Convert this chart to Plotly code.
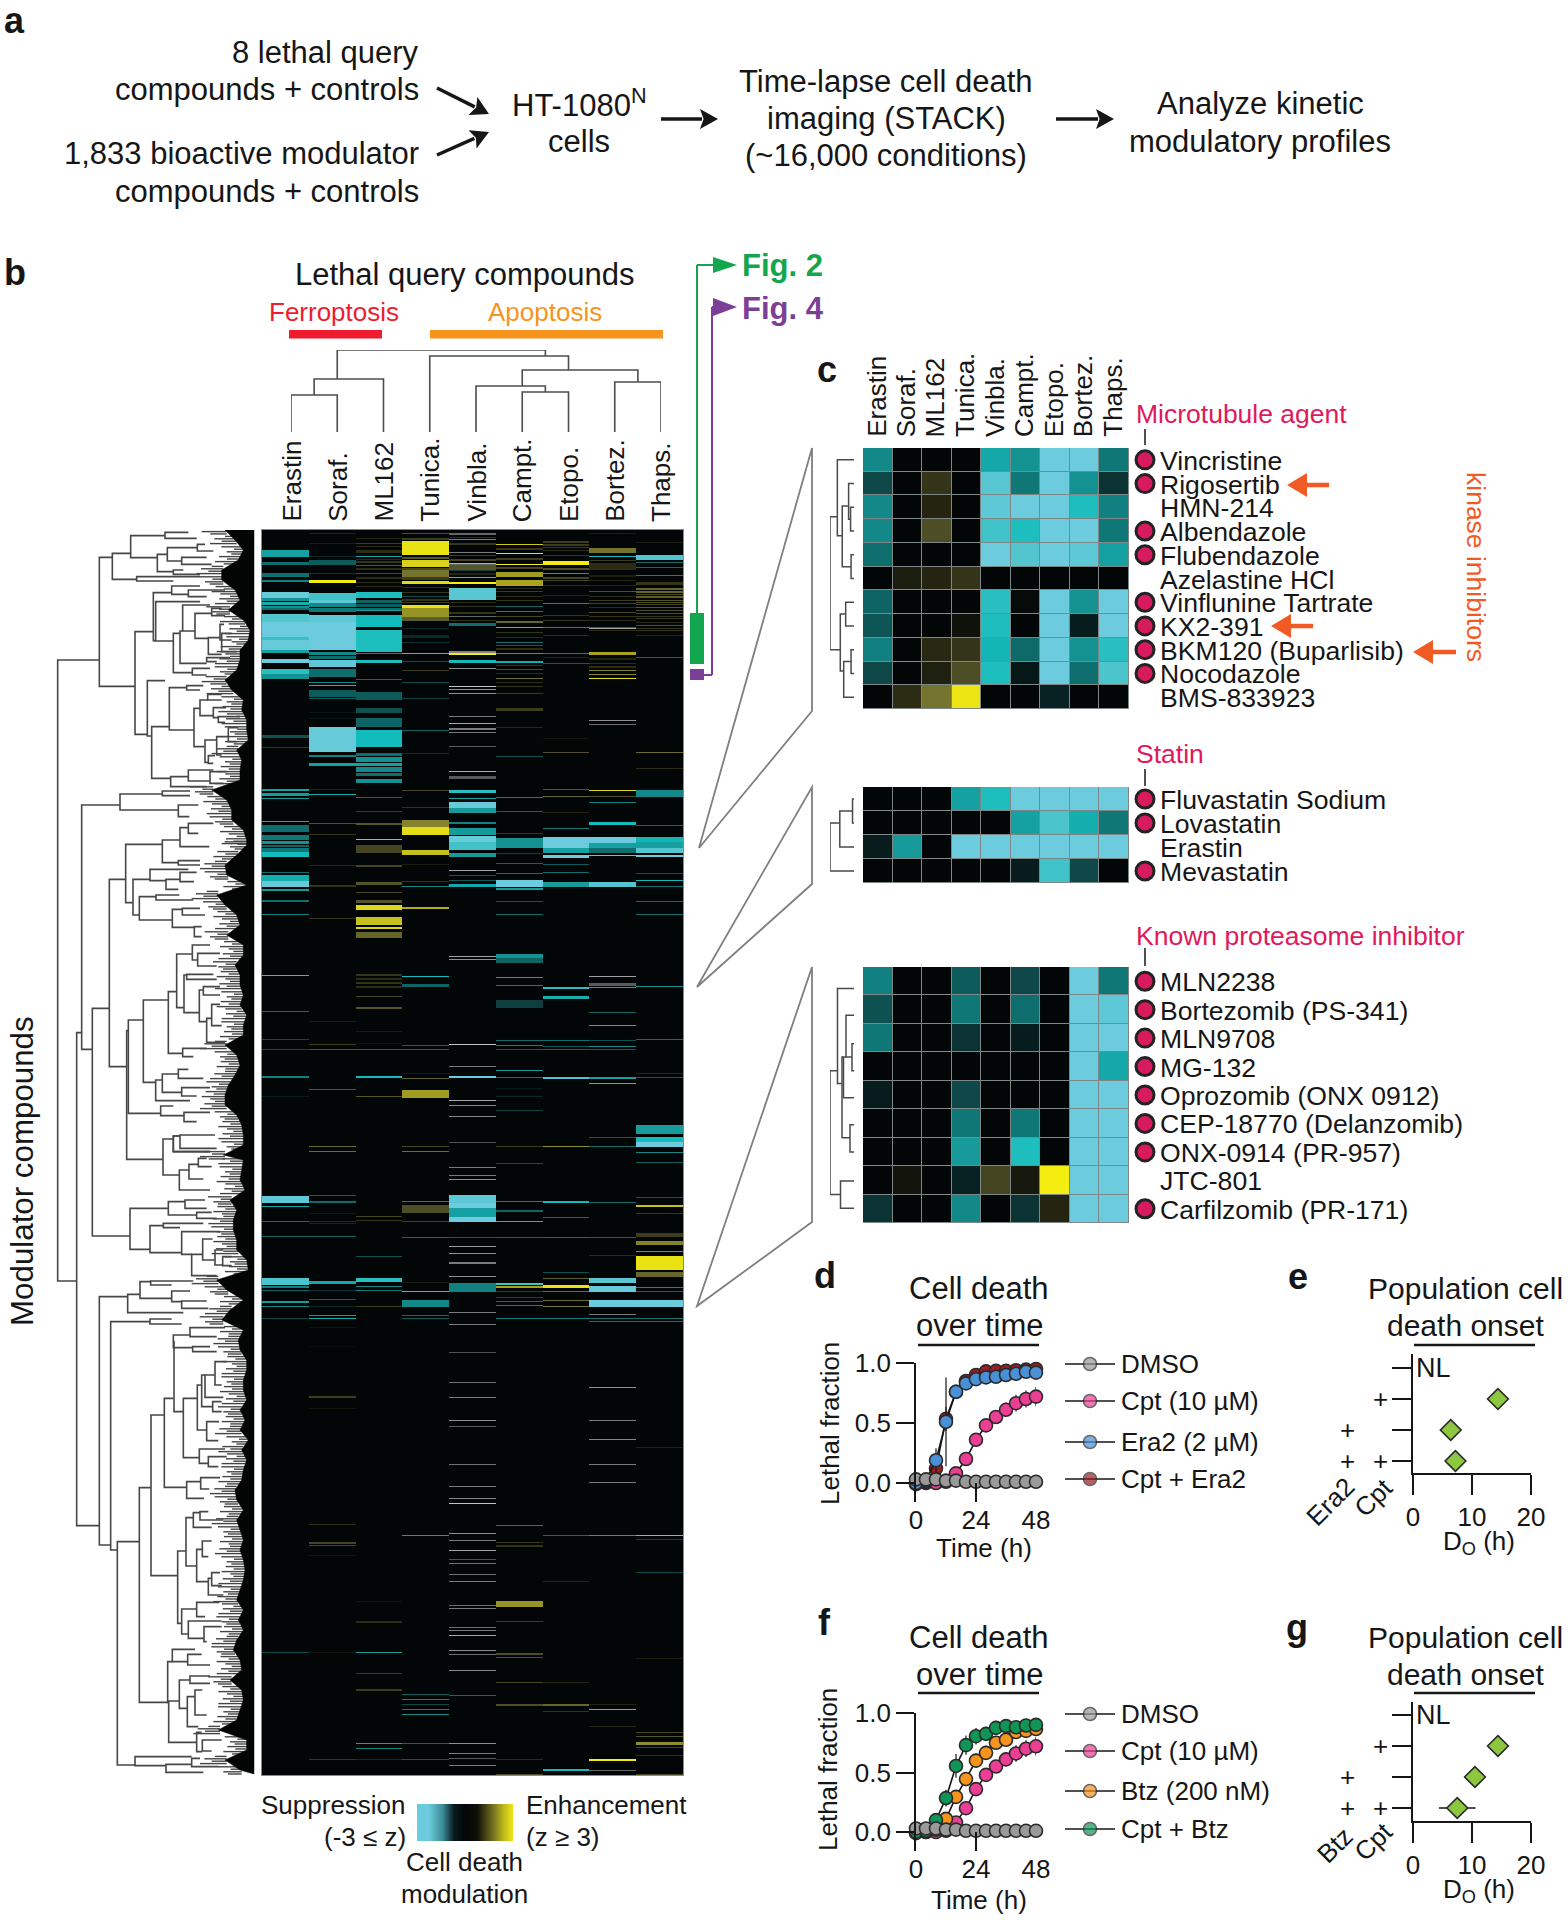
import numpy as np
import plotly.graph_objects as go

W, H = 1568, 1920
FONT = "Liberation Sans"
INK = "#161616"

# ---------- colour scale for z scores ----------
CSCALE = [[0, '#6ccbdc'], [1/12, '#4cc4cc'], [2/12, '#12bcbc'], [3/12, '#169a9a'], [4/12, '#0e6e6e'],
          [5/12, '#0e3e3e'], [6/12, '#020607'], [7/12, '#2c2c14'], [8/12, '#55552a'], [9/12, '#7c7c30'],
          [10/12, '#a8a41f'], [11/12, '#d8d21a'], [1, '#f5ec10']]
KEYSCALE = [[0, '#6ccbdc'], [.12, '#6ccbdc'], [.26, '#3d8c9a'], [.38, '#0a1a1e'], [.5, '#020607'], [.62, '#0f0f08'],
            [.78, '#6f6b20'], [.9, '#c0ba1c'], [1, '#f0e816']]
scale_key = [-3, -2.5, -2, -1.5, -1, -.5, 0, .5, 1, 1.5, 2, 2.5, 3]

query_compounds = ["Erastin", "Soraf.", "ML162", "Tunica.", "Vinbla.", "Campt.", "Etopo.", "Bortez.", "Thaps."]

# ---------- panel b: bands per column (first row, number of rows, z) ----------
n_rows_b = 1245
band_erastin = [(20,7,-1.6),(32,3,-1),(43,4,-1),(50,2,-1.2),(62,6,-2.9),(68,3,-1.4),(72,3,-1.8),(76,2,-1.4),(78,2,-1),
 (84,8,-2.6),(92,15,-3),(107,3,-2.3),(110,10,-2.9),(120,3,-1.6),(129,4,-3),(139,5,-2.2),(144,5,-1.4),(205,3,-.7),(217,1,-.5),
 (259,2,-1.6),(263,3,-1.5),(268,1,-1.5),(291,1,-1.8),(295,7,-1),(305,5,-1.1),(311,3,-1.4),(315,2,-.9),(318,4,-1.1),(322,5,-2),
 (342,1,-1),(345,6,-1.8),(351,6,-2.9),(359,2,-1.5),(370,2,-1),(384,1,-1.2),(445,1,-2.2),(481,1,-1),(509,1,-.6),(519,1,-.6),
 (546,2,-1.2),(566,1,-.2),(666,7,-2.8),(676,1,-1.7),(691,1,-1),(706,1,-.9),(748,7,-2.5),(756,2,-1.2),(760,1,-.9),(771,2,-1.5),
 (776,1,-1.3),(788,1,-.6),(1122,1,-.6)]
band_soraf = [(3,1,.4),(13,1,.3),(26,1,-.3),(30,5,-.8),(43,1,.5),(50,3,3),(63,7,-2.4),(70,3,-2.8),(73,4,-1.3),(78,4,-1.1),
 (85,7,-2.8),(92,28,-3),(122,3,-1.3),(126,3,-1),(130,7,-2.8),(139,8,-1),(152,1,-1.3),(155,1,-2),(160,7,-.8),(168,1,-.9),
 (182,1,-.15),(188,1,-.15),(197,25,-2.9),(225,2,-1.2),(233,3,-1.6),(259,1,-.3),(264,1,-1.8),(293,1,.9),(304,1,.6),(335,1,.4),
 (355,2,.6),(388,1,.6),(491,1,.3),(514,1,.7),(519,1,-.9),(559,1,-1),(616,1,1.2),(621,1,1.3),(665,1,-.8),(671,2,-1),(683,1,-.2),
 (691,1,-.4),(693,1,.4),(706,1,-.9),(751,3,-1.7),(760,1,-.4),(769,1,.9),(776,1,-.3),(785,1,-1.5),(788,1,-1.8),(797,1,.2),
 (816,1,.1),(866,2,.7),(878,1,.2),(994,1,.5),(1012,2,.8),(1015,1,.8),(1025,1,.2),(1122,1,.2),(1229,1,.6)]
band_ml162 = [(8,1,.4),(16,1,.5),(13,1,-.6),(20,3,.5),(26,1,-1.6),(29,1,-.4),(31,2,.6),(35,1,1),(38,2,.5),(43,1,-.8),(47,2,.5),(52,1,.5),(56,1,.5),
 (62,6,-2.1),(70,3,-.9),(74,3,-.8),(78,2,-1),(80,1,-1.6),(85,12,-2),(100,22,-2.1),(123,1,-1.3),(130,3,-2.1),(149,1,1),(162,8,-.8),(178,5,-.7),(188,9,-.9),
 (200,17,-2),(223,3,-1),(227,5,-1.4),(233,3,-1.6),(237,5,-1.3),(243,3,-1),(249,4,-1.4),(267,1,1),(281,1,.7),(293,2,1),(309,1,2.3),(315,8,.8),(335,2,.8),(352,3,1),(362,1,.8),
 (370,3,1),(375,5,2.6),(387,8,2.3),(397,2,2.6),(402,6,1.2),(444,2,.6),(448,2,.5),(452,2,.6),(456,2,.5),(466,1,.8),(477,2,1),
 (501,1,.3),(513,1,.2),(519,1,-.9),(546,2,-2),(566,1,1),(686,1,.8),(690,1,.6),(726,1,-.7),(748,4,-2.2),(756,1,-1.3),(760,1,-1.1),
 (776,1,.7),(1071,1,.2),(1091,2,.5),(1122,1,-1.5),(1143,1,-.6),(1159,2,.7),(1213,1,-1.6),(1218,1,-1.3),(1229,1,.4)]
band_tunica = [(3,1,.9),(8,2,.7),(11,14,2.8),(27,2,1),(30,7,2.5),(38,2,.8),(40,7,1.4),(47,3,.7),(51,3,2.7),(57,1,.5),(62,1,.6),(66,1,-.6),(69,2,.6),(72,1,.7),(75,3,2.8),(78,9,1.8),(87,4,1.1),
 (98,1,-.3),(105,3,-.3),(112,1,-.4),(123,1,2),(131,1,-.6),(140,1,.7),(152,1,-.6),(168,1,-.5),(200,1,-.9),(223,1,.4),(260,1,.8),
 (277,1,-.5),(290,7,1.6),(297,8,2.7),(320,5,2.3),(334,1,.3),(351,1,-.5),(356,1,-1.3),(377,2,2.1),(446,1,-2),(454,3,-.9),
 (515,1,-.9),(519,1,-.9),(543,1,.3),(548,1,1.1),(560,8,1.9),(616,1,.8),(621,1,1.3),(671,1,-1.2),(675,8,.9),(691,1,-.7),(707,1,-1),
 (752,1,.3),(761,1,2),(770,7,-1.3),(785,1,-1),(788,1,-.8),(1005,1,-1.5),(1164,1,-.8),(1169,1,-1.2),(1174,1,-.6),(1179,1,-1.2),
 (1184,1,-1.3),(1213,1,-.9),(1229,1,.8)]
band_vinbla = [(7,1,.5),(13,2,.6),(25,1,.7),(29,2,.8),(33,2,2.3),(35,5,1),(40,1,-.5),(43,2,.4),(47,1,2),(52,2,3),(58,12,-2.7),(72,1,.5),(76,1,.6),(82,2,.6),(90,1,.6),(93,3,-1),(123,2,3),(130,3,-2),(260,3,-2.2),(268,1,-1.7),
 (272,6,-2.9),(278,5,-1.5),(292,2,-1.2),(298,7,-1.5),(306,6,-2.9),(312,8,-2.4),(323,4,-1.5),(345,1,-.8),(350,1,-.8),(354,3,-1.7),
 (546,2,-3),(665,8,-2.8),(673,5,-3),(678,9,-1.6),(687,5,-3),(707,1,-.8),(753,9,-1.2)]
band_campt = [(14,1,2.4),(18,2,.6),(23,1,2.8),(28,2,.7),(34,1,3),(37,2,.8),(42,5,1.9),(50,6,2),(58,1,.5),(61,1,.7),(66,1,.5),(70,1,.6),(76,1,-.9),(81,1,1.2),(86,1,.8),(91,2,1.2),(97,1,2),(102,1,.6),
 (107,1,.5),(112,1,-1),(115,1,-.8),(118,2,.5),(123,1,1.6),(131,2,-1.8),(135,1,.6),(139,1,.9),(143,1,.5),(148,1,1.3),(152,1,.5),(156,1,.6),(163,1,-.6),(178,3,.7),(197,1,.4),
 (226,1,-.7),(267,1,1.2),(281,1,.9),(303,1,.6),(308,10,-1.4),(323,1,-.5),(333,1,.9),(343,1,-1),(350,7,-3),(358,2,-1.5),(371,1,.8),
 (384,1,-1),(424,4,-1.4),(428,5,-.9),(447,1,-1.6),(455,1,-1.2),(470,8,-.5),(510,1,-1),(515,1,-1.2),(519,1,-.8),(540,1,-1.5),
 (547,1,-1),(558,1,-.2),(566,1,-.3),(580,1,-.5),(616,1,.7),(633,1,-.7),(671,1,-1.2),(680,2,-.9),(691,1,-2),(707,1,-.9),(753,2,-2.4),
 (756,2,2),(761,1,.7),(767,1,.7),(771,1,-1),(775,1,-1.2),(788,1,-1.2),(995,1,1.2),(1012,1,.6),(1015,2,.6),(1071,6,1.8),(1091,1,.7),
 (1123,2,.9),(1127,1,.9),(1152,1,.8),(1174,2,.9),(1229,1,.5),(1244,1,.9)]
band_etopo = [(11,2,.7),(14,2,.7),(17,1,.7),(20,1,.5),(25,1,.6),(31,4,3),(38,2,.9),(43,1,1.5),(47,2,.8),(50,1,.8),(55,1,.5),(65,1,.4),(73,1,1.3),(85,1,.6),(90,1,.6),(97,1,1.3),(105,1,.5),(123,1,1.2),(127,1,.4),(133,1,-.8),(208,1,.2),
 (222,1,.9),(259,1,-1),(266,1,1.2),(282,1,.4),(298,1,-1.1),(307,11,-3),(318,5,-1.6),(325,3,-3),(334,1,-.8),(342,1,-1),(352,5,-1.5),
 (457,2,-2.2),(466,3,-1.8),(510,1,-1),(516,1,-.8),(519,1,-.9),(547,2,-2.6),(616,1,1.7),(671,2,-2),(687,1,-1),(707,1,-1),(742,1,-.7),
 (748,1,1.1),(755,3,2.8),(761,1,-1.3),(770,1,1.3),(776,1,1.4),(788,1,-1.2),(1005,1,-1),(1051,1,.4),(1152,1,.4),(1174,2,1.2),
 (1181,1,.6),(1239,2,-2)]
band_bortez = [(3,1,.3),(18,5,1.4),(26,1,-2),(30,1,.7),(33,7,.5),(45,2,.3),(50,1,.4),(55,1,.4),(61,1,.9),(66,1,.5),(70,1,.7),(73,1,.8),(77,1,.5),(82,1,.8),(86,1,.6),(90,1,.5),(97,1,1),(100,1,.5),(122,3,2),(128,2,.4),(133,1,.5),(136,2,.5),(140,1,1.6),(144,1,1.6),
 (148,1,2.7),(260,1,2.6),(266,1,.9),(272,1,-1.2),(292,3,-2),(307,6,-3),(313,5,-1.6),(318,5,-1),(325,1,-2.7),(352,5,-2.6),(457,1,-1.7),
 (482,1,-.9),(510,1,-.7),(516,1,-1.3),(519,1,-.8),(547,2,-1.6),(607,1,-.8),(616,1,-1),(672,1,-1),(707,1,-.9),(725,1,.5),(748,5,-2.7),
 (756,6,-2.9),(770,7,-3),(788,1,-1),(791,1,-1),(1005,1,-1.6),(1174,1,.4),(1196,1,.4),(1229,2,3)]
band_thaps = [(12,1,.3),(25,5,-2.6),(32,1,-1),(37,1,-1),(45,1,-1.2),(52,3,.6),(58,2,1.2),(61,2,1.2),(64,1,.8),(66,2,1.1),(70,1,1),(72,1,.9),(74,1,.8),(77,1,1),(80,1,.9),(83,1,.9),(86,1,.6),(88,1,.7),(92,1,.5),(95,1,-.9),
 (98,1,.6),(100,1,.6),(105,1,.4),(127,1,.9),(222,1,1.3),(238,1,.5),(260,7,-1.3),(295,1,-.9),(307,5,-1.9),(312,6,-1.6),(318,5,-2.6),(325,2,-3),(343,1,-.7),
 (350,1,-1.9),(356,1,-1),(371,1,1),(384,1,-1),(456,1,-1.4),(509,1,-1),(543,1,.5),(547,1,-.8),(595,9,-1.5),(607,5,-2),(612,5,-3),(622,1,-1.3),
 (632,1,-.8),(667,1,.8),(675,2,2.3),(683,1,.6),(703,4,.7),(711,4,1.6),(721,1,1.7),(726,14,2.8),(742,5,1.2),(757,1,1.3),(761,1,-.9),(770,7,-3),
 (788,1,-1.1),(791,1,-1),(917,1,-.3),(1005,1,-2.8),(1009,1,-.5),(1042,1,-.6),(1128,1,.3),(1202,1,.8),(1206,1,1),(1212,3,1.7),(1217,1,.8),
 (1225,1,.5),(1244,1,.8)]
band_lists = [band_erastin, band_soraf, band_ml162, band_tunica, band_vinbla, band_campt, band_etopo, band_bortez, band_thaps]

# grey (off-scale) bands: (first row, rows, brightness)
grey_vinbla = [(3,2,.4),(9,1,.5),(22,1,.5),(34,1,.4),(86,1,.4),(121,2,.55),(138,1,.6),(156,1,.85),(159,1,.6),(163,1,.6),(186,1,.5),(193,1,.7),
 (198,2,.5),(202,1,.5),(216,1,.35),(241,1,.75),(246,3,.35),(340,1,.7),(426,1,.7),(429,1,.6),(514,1,.85),(536,1,.5),(570,1,.7),(575,1,.55),
 (586,1,.55),(612,1,.3),(637,1,.5),(645,1,.5),(649,1,.6),(716,1,.65),(723,1,.6),(732,2,.5),(746,1,.6),(782,1,.5),(794,1,.5),(822,1,.3),
 (852,1,.45),(867,1,.5),(890,1,.6),(896,1,.35),(934,1,.45),(956,1,.5),(968,1,.55),(973,1,.85),(1003,1,.6),(1010,1,.5),(1020,1,.7),(1029,1,.3),
 (1033,1,.45),(1044,1,.45),(1051,1,.5),(1075,1,.45),(1078,1,.5),(1097,1,.45),(1100,1,.5),(1105,1,.7),(1120,1,.6),(1124,1,.45),(1140,1,.55),
 (1165,1,.3),(1213,1,.6),(1223,1,.5),(1228,1,.35),(1235,1,.5)]
grey_bortez = [(98,1,.7),(190,1,.6),(194,1,.45),(446,1,.7),(453,3,.35),(495,1,.55),(553,1,.6),(784,1,.5),(857,1,.6),(890,1,.5),(909,1,.55),
 (934,1,.5),(952,1,.5),(1179,1,.65),(1240,1,.4)]

# ---------- panel b: large dendrogram, U nodes (bar x, y top, y bottom, end x top, end x bottom), section-local picture units ----------
tree_s1 = [(272,32,98,375,352),(375,22,40,445,470),(352,88,140,382,400),(382,68,108,472,425),(472,58,78,495,520),(425,97,118,500,515),
 (400,135,148,430,480),(217,85,163,272,290),(290,155,168,480,400),(178,97,484,217,285),(340,203,347,395,347),(395,183,208,480,445),
 (445,195,215,555,500),(347,230,348,480,400),(400,325,443,420,457),(420,318,415,428,500),(428,240,318,510,465),(465,265,340,515,505),
 (505,338,388,540,545),(515,250,272,545,555),(540,298,345,552,575),(545,325,380,575,590),(500,398,410,570,530),(457,430,450,510,500),
 (322,467,633,375,335),(335,605,760,388,392),(388,488,615,440,462),(440,482,495,490,480),(462,550,665,480,495),(480,525,572,503,520),
 (503,508,525,545,545),(520,548,578,558,535),(535,575,592,600,555),(495,645,712,530,505),(530,635,690,565,545),(565,608,650,595,590),
 (505,692,715,525,520),(392,755,785,445,500),(445,735,768,520,510),(510,740,775,560,550),(285,320,628,340,322),(240,807,855,367,415),
 (367,798,812,450,450),(415,840,875,475,448),(445,895,925,520,475)]
tree_s2 = [(415,62,75,480,480),(279,118,225,330,298),(330,88,122,445,378),(378,118,148,420,415),(420,97,125,470,462),(298,170,240,348,397),
 (348,165,180,418,460),(397,208,262,427,463),(427,205,225,480,495),(463,260,290,485,485),(265,540,820,310,362),(310,480,727,385,347),
 (385,455,640,410,428),(410,342,503,457,432),(457,315,360,510,473),(473,340,378,540,530),(432,405,518,440,478),(440,403,418,520,530),
 (478,450,545,490,500),(490,440,465,540,540),(500,535,607,515,555),(515,493,557,540,545),(428,625,650,500,460),(347,720,782,367,450),
 (367,702,757,415,425),(415,688,715,445,490),(425,743,768,510,470),(362,798,827,400,432),(432,817,845,510,470),(400,888,935,420,510),
 (420,885,925,525,530)]
tree_s3 = [(418,45,105,447,510),(447,28,72,475,490),(475,10,35,500,515),(270,160,283,385,330),(385,140,180,435,470),(435,135,160,495,500),
 (470,172,190,515,530),(330,212,293,370,425),(370,205,218,490,420),(425,230,298,540,455),(455,298,362,488,530),(488,252,315,518,525),
 (525,285,330,550,548),(548,305,332,575,575),(263,418,473,300,430),(300,380,430,332,395),(332,378,390,460,395),(395,408,440,450,425),
 (425,438,460,500,505),(330,492,507,395,425),(400,540,578,450,458),(402,560,770,400,430),(450,518,545,555,530),(458,575,590,510,530),
 (430,730,908,472,478),(472,690,825,485,500),(485,660,755,495,518),(495,660,727,525,550),(525,620,690,560,545),(518,740,770,545,545),
 (500,800,857,537,535),(478,882,925,555,505),(505,905,935,560,535)]
tree_s4 = [(440,50,100,482,492),(482,38,72,540,508),(413,258,475,438,425),(438,158,303,460,470),(460,143,187,480,515),(480,140,165,505,550),
 (470,253,350,487,505),(487,228,275,515,505),(505,340,390,515,550),(515,323,362,540,545),(425,432,507,470,445),(470,412,455,538,495),
 (445,468,520,545,492),(492,485,530,545,500),(383,590,712,397,386),(386,708,832,418,470),(397,553,590,465,443),(443,568,600,485,510),
 (418,645,730,450,442),(450,633,655,510,510),(442,695,785,465,475),(465,675,750,487,500),(470,802,860,485,487),(487,825,858,545,515),
 (285,875,902,455,378),(378,898,922,455,490),(455,880,905,480,535),(232,230,900,298,285)]
# nodes that span several sections, in continuous picture units
tree_span = [(53,405,2268,178,110),(110,1523,3002,125,178),(125,840,1573,240,157),(157,1450,2133,208,270),(208,1063,1625,257,260),
 (257,958,1133,367,279),(367,945,1013,420,415),(420,908,965,445,508),(260,1517,1903,265,369),(369,1842,1950,400,418),(400,1833,1880,420,510),
 (178,2315,3060,263,210),(212,2390,3075,330,232),(298,2888,3532,333,385),(333,2670,3152,373,413),(373,2620,2887,400,440)]
tree_offsets = [0, 945, 1890, 2820]
# left edge of the dense tip mass, one value per 30 picture units of height
tips_s1 = [555,585,610,595,545,545,585,600,565,610,630,625,600,600,590,555,575,610,605,620,620,625,590,605,600,600,515,560,575,575,610,620]
tips_s2 = [620,590,555,560,620,530,555,590,600,560,610,610,585,600,600,610,600,620,610,610,555,590,600,585,565,555,555,590,605,610,610,550]
tips_s3 = [610,605,600,615,570,590,580,580,590,590,620,625,530,560,610,570,545,610,595,600,620,620,610,610,620,600,615,600,625,605,620]
tips_s4 = [610,605,585,590,610,590,600,610,600,610,615,610,600,590,610,595,610,590,580,600,605,570,605,610,600,590,535,620,620,555,600]
stub_sets = [((-3.4, 58), (-1, 34), (1.6, 70), (3.9, 44)), ((-3.6, 30), (-1.2, 62), (1.2, 40), (3.6, 75)), ((-3.2, 66), (-.8, 28), (1.8, 50), (4, 36))]

# ---------- query-compound dendrogram (x left, x right, height, left end height, right end height) ----------
top_tree = [(0,1,37,0,0),(.5,2,53,37,0),(5,6,40,0,0),(4,5.5,46,0,40),(7,8,50,0,0),(5,7.5,62,46,50),(3,6,76,0,62),(1,5.5,82,53,76)]

# ---------- panel c ----------
c1_names = ["Vincristine","Rigosertib","HMN-214","Albendazole","Flubendazole","Azelastine HCl","Vinflunine Tartrate","KX2-391","BKM120 (Buparlisib)","Nocodazole","BMS-833923"]
c1_dots = [1,1,0,1,1,0,1,1,1,1,0]
c1_z = [[-1.3,0,0,0,-1.7,-1.4,-3,-3,-1.1],[-.6,0,.6,0,-2.7,-1.1,-3,-1.4,-.4],[-1.3,0,.4,0,-2.8,-3,-3,-2.1,-1.2],
 [-1.3,0,.9,0,-2.4,-2.1,-3,-3,-1.1],[-1,0,0,0,-3,-2.6,-3,-2.8,-1.6],[0,.3,.4,.6,0,0,0,0,0],[-.9,0,0,0,-2.2,.05,-3,-1.4,-3],
 [-.75,0,0,.15,-2.1,0,-3,-.2,-3],[-1.2,0,.45,.6,-1.9,-.95,-3,-1.4,-2.2],[-.6,0,.35,.9,-2.1,-.15,-3,-1,-2.5],[0,.5,1.4,2.85,0,0,-.25,0,0]]
c2_names = ["Fluvastatin Sodium","Lovastatin","Erastin","Mevastatin"]
c2_dots = [1,1,0,1]
c2_z = [[0,0,0,-1.6,-2.1,-3,-3,-3,-3],[0,0,0,0,0,-1.6,-2.5,-1.8,-1.1],[-.2,-1.5,0,-3,-3,-3,-3,-3,-3],[0,0,0,0,0,-.2,-2.4,-.6,0]]
c3_names = ["MLN2238","Bortezomib (PS-341)","MLN9708","MG-132","Oprozomib (ONX 0912)","CEP-18770 (Delanzomib)","ONX-0914 (PR-957)","JTC-801","Carfilzomib (PR-171)"]
c3_dots = [1,1,1,1,1,1,1,0,1]
c3_z = [[-1.2,0,0,-.8,0,-.6,0,-3,-1.1],[-.7,0,0,-1.1,0,-1,0,-3,-2.8],[-1.1,0,0,-.4,0,-.2,0,-3,-3],[0,0,0,0,0,0,0,-3,-1.7],
 [-.2,0,0,-.6,0,0,0,-3,-3],[0,0,0,-1.1,0,-1.1,0,-3,-3],[0,0,0,-1.5,0,-2.1,0,-3,-3],[0,.2,0,-.25,.8,.25,3,-3,-3],[-.4,0,0,-1.3,0,-.4,.4,-3,-3]]
# small dendrograms: (depth of bar, y1, y2, depth end1, depth end2) in row units; depth 0 = leaf
c1_tree = [(7,2,3,0,0),(11,1,2.5,0,7),(6,4,5,0,0),(24,1.94,4.5,11,6),(34,0,3.2,0,24),(17,6,7,0,0),(6,8,9,0,0),(21,8.5,10,6,0),(28,6.5,8.9,17,21),(49,2.4,8,34,28)]
c2_tree = [(3,0,1,0,0),(29,.5,2,3,0),(49,1,3,29,0)]
c3_tree = [(4,2.2,3.15,0,0),(16,1.2,2.66,0,4),(21,2.66,4.1,16,0),(8,5.05,6,0,0),(24,2.66,5.5,21,8),(33,.26,3.6,0,24),(27,7.02,7.98,0,0),(48,3.15,7.5,33,27)]

# ---------- panels d-g ----------
time_h = [0,4,8,12,16,20,24,28,32,36,40,44,48]
dmso_d = [.03,.03,.03,.02,.02,.01,.01,.01,.01,.01,.01,.01,.01]
cpt_d = [-.01,0,0,.01,.08,.2,.36,.48,.55,.61,.665,.70,.72]
era2_d = [0,.02,.19,.51,.76,.83,.865,.88,.885,.90,.91,.927,.92]
cpt_era2_d = [0,.01,.12,.535,.76,.85,.90,.93,.935,.935,.94,.945,.95]
cpt_err = [0,0,0,0,.02,.03,.03,.04,.05,.06,.07,.07,.08]
era2_err = [0,0,.1,.37,.03,.02,.02,.02,.02,.02,.02,.02,.02]
cpt_era2_err = [0,0,.04,.1,.03,.02,.02,.02,.02,.02,.02,.02,.02]
dmso_f = [.03,.03,.03,.02,.02,.01,.01,.01,.01,.01,.01,.01,.01]
cpt_f = [-.01,0,0,.01,.08,.2,.36,.48,.55,.61,.66,.70,.72]
btz_f = [0,0,.02,.11,.295,.445,.60,.665,.75,.775,.84,.85,.865]
cpt_btz_f = [0,.01,.10,.285,.555,.73,.805,.825,.875,.89,.88,.895,.90]
cpt_err_f = [0,0,0,0,.02,.03,.03,.04,.05,.06,.07,.07,.08]
btz_err = [0,0,.01,.03,.05,.06,.06,.06,.05,.05,.05,.04,.04]
cpt_btz_err = [0,0,.03,.07,.1,.08,.07,.06,.06,.06,.05,.05,.04]
onset_rows = ["NL","Cpt","Drug","Drug + Cpt"]
onset_e = [None,14.4,6.4,7.2]
onset_g = [None,14.4,10.5,7.5]
onset_g_err = [0,0,0,3.1]
plus_drug = [0,0,1,1]
plus_cpt = [0,1,0,1]
legend_d = ["DMSO","Cpt (10 µM)","Era2 (2 µM)","Cpt + Era2"]
legend_f = ["DMSO","Cpt (10 µM)","Btz (200 nM)","Cpt + Btz"]
GREY, PINK, BLUE, DRED, ORANGE, GREEN = '#9a9a9a', '#ec3e94', '#4a90d6', '#9b1c24', '#f7941d', '#0f9555'

fig = go.Figure()
annos, shapes, layout_axes = [], [], {}

def axes(n, x0, x1, y0, y1, xkw=None, ykw=None):
    base = dict(visible=False, showgrid=False, zeroline=False, automargin=False)
    xk, yk = dict(base), dict(base)
    xk.update(xkw or {}); yk.update(ykw or {})
    layout_axes[f'xaxis{n}'] = dict(domain=[x0/W, x1/W], anchor=f'y{n}', **xk)
    layout_axes[f'yaxis{n}'] = dict(domain=[1-y1/H, 1-y0/H], anchor=f'x{n}', **yk)

def T(text, x, y, size=26, color=INK, anchor='center', angle=0, bold=False, xref='x', yref='y', vanchor='middle'):
    annos.append(dict(text=f'<b>{text}</b>' if bold else text, x=x, y=y, xref=xref, yref=yref, showarrow=False,
                      xanchor=anchor, yanchor=vanchor, textangle=angle, borderpad=0, borderwidth=0,
                      font=dict(family=FONT, size=size, color=color)))

def L(x0, y0, x1, y1, color=INK, w=2.5):
    shapes.append(dict(type='line', x0=x0, y0=y0, x1=x1, y1=y1, xref='x', yref='y', line=dict(color=color, width=w)))

def ARW(x0, y0, x1, y1, color=INK, w=3.5, hl=18, hw=10, notch=.2):
    d = np.hypot(x1-x0, y1-y0); ux, uy = (x1-x0)/d, (y1-y0)/d
    bx, by = x1-ux*hl, y1-uy*hl
    L(x0, y0, bx+ux*2, by+uy*2, color, w)
    p = f'M {x1} {y1} L {bx-uy*hw} {by+ux*hw} L {bx+ux*hl*notch} {by+uy*hl*notch} L {bx+uy*hw} {by-ux*hw} Z'
    shapes.append(dict(type='path', path=p, xref='x', yref='y', fillcolor=color, line=dict(width=0)))

def u_paths(nodes):
    xs, ys = [], []
    for bar, y1, y2, e1, e2 in nodes:
        xs += [e1, bar, bar, e2, None]; ys += [y1, y1, y2, y2, None]
    return xs, ys

# page axes --------------------------------------------------------------------------------------
axes('', 0, W, 0, H, dict(range=[0, W]), dict(range=[H, 0]))

# panel b heatmap --------------------------------------------------------------------------------
axes(2, 262, 683, 530, 1775,
     dict(visible=True, range=[-.5, 8.5], showticklabels=False, ticks='', showline=True, mirror=True, linecolor='#8a8a8a', linewidth=1),
     dict(visible=True, range=[n_rows_b, 0], showticklabels=False, ticks='', showline=True, mirror=True, linecolor='#8a8a8a', linewidth=1))
zb = np.zeros((n_rows_b, 9))
for c, bl in enumerate(band_lists):
    for r, h, v in bl:
        zb[r:r+h, c] = v
gb = np.full((n_rows_b, 9), np.nan)
for c, gl in ((4, grey_vinbla), (7, grey_bortez)):
    for r, h, v in gl:
        gb[r:r+h, c] = v
rows_b = np.arange(n_rows_b) + .5
fig.add_trace(go.Heatmap(z=zb, y=rows_b, x=list(range(9)), xaxis='x2', yaxis='y2', zmin=-3, zmax=3, colorscale=CSCALE, hoverinfo='skip', showscale=False))
fig.add_trace(go.Heatmap(z=gb, y=rows_b, x=list(range(9)), xaxis='x2', yaxis='y2', zmin=0, zmax=1,
    colorscale=[[0, '#111111'], [1, '#e2e2e2']], showscale=False, hoverinfo='skip'))

# colour key -------------------------------------------------------------------------------------
axes(15, 417, 513, 1804, 1841, dict(range=[0, len(scale_key)-1]), dict(range=[-.5, .5]))
fig.add_trace(go.Heatmap(z=[scale_key, scale_key], y=[-.5, .5], xaxis='x15', yaxis='y15', zmin=-3, zmax=3, colorscale=KEYSCALE, showscale=False, hoverinfo='skip', zsmooth='best'))

# big dendrogram ---------------------------------------------------------------------------------
axes(3, 40, 265, 530, 1775, dict(range=[0, 675]), dict(range=[n_rows_b, 0]))
to_row = lambda z: z/3 - 5
all_nodes = [(b, to_row(a), to_row(c), d, e) for b, a, c, d, e in tree_span]
for off, sec in zip(tree_offsets, (tree_s1, tree_s2, tree_s3, tree_s4)):
    all_nodes += [(b, to_row(a+off), to_row(c+off), d, e) for b, a, c, d, e in sec]
tipx, tipy = [], []
for off, sec in zip(tree_offsets, (tips_s1, tips_s2, tips_s3, tips_s4)):
    for i, v in enumerate(sec):
        tipx.append(v); tipy.append(to_row(off + 15 + 30*i))
close_x = [642, 642, tipx[0]]; close_y = [n_rows_b-1, 0, 0]
# leaf stubs running into the tip mass
hx, hy = [], []
for j, (x, y) in enumerate(zip(tipx, tipy)):
    for dyy, ln in stub_sets[j % 3]:
        hx += [x-ln, x+5, None]; hy += [y+dyy, y+dyy, None]
fig.add_trace(go.Scatter(x=hx, y=hy, xaxis='x3', yaxis='y3', mode='lines', line=dict(color='#444444', width=1.4), hoverinfo='skip', showlegend=False))
dx, dy = u_paths(all_nodes)
fig.add_trace(go.Scatter(x=dx, y=dy, xaxis='x3', yaxis='y3', mode='lines', line=dict(color='#474747', width=1.6), hoverinfo='skip', showlegend=False))
fig.add_trace(go.Scatter(x=tipx+close_x, y=tipy+close_y, xaxis='x3', yaxis='y3', mode='lines', fill='toself', fillcolor='#030505',
    line=dict(width=.5, color='#030505'), hoverinfo='skip', showlegend=False))

# query dendrogram -------------------------------------------------------------------------------
axes(4, 291, 661, 350, 432, dict(range=[0, 8]), dict(range=[0, 82]))
tx, ty = [], []
for a, b, h, ha, hb in top_tree:
    tx += [a, a, b, b, None]; ty += [ha, h, h, hb, None]
fig.add_trace(go.Scatter(x=tx, y=ty, xaxis='x4', yaxis='y4', mode='lines', line=dict(color='#4d4d4d', width=1.6), hoverinfo='skip', showlegend=False, cliponaxis=False))
for i, nm in enumerate(query_compounds):
    T(nm, i, 522, size=26, angle=-90, xref='x4', vanchor='bottom')

# panel c ----------------------------------------------------------------------------------------
def cpanel(n, zmat, names, dots, y0, y1, tree, treedepth):
    m = len(names)
    axes(n, 863, 1129, y0, y1, dict(range=[-.5, 8.5]), dict(range=[m-.5, -.5]))
    shapes.append(dict(type='rect', xref=f'x{n}', yref=f'y{n}', x0=-.5, x1=8.5, y0=-.5, y1=m-.5, layer='below',
                       fillcolor='#7d8788', line=dict(width=0)))
    fig.add_trace(go.Heatmap(z=zmat, xaxis=f'x{n}', yaxis=f'y{n}', zmin=-3, zmax=3, colorscale=CSCALE, showscale=False,
                             xgap=1, ygap=1, hoverinfo='skip', x=list(range(9)), y=list(range(m))))
    d = n + 20
    axes(d, 1132, 1158, y0, y1, dict(range=[0, 1]), dict(range=[m-.5, -.5]))
    yd = [i for i, f in enumerate(dots) if f]
    fig.add_trace(go.Scatter(x=[.5]*len(yd), y=yd, xaxis=f'x{d}', yaxis=f'y{d}', mode='markers', cliponaxis=False, showlegend=False,
        marker=dict(size=18, color='#d81b5c', line=dict(color='#232323', width=3)), hoverinfo='skip'))
    rh = (y1-y0)/m
    for i, nm in enumerate(names):
        T(nm, 1160, y0+(i+.5)*rh+1, size=26.6, anchor='left')
    k = n + 1
    axes(k, 830, 854, y0, y1, dict(range=[treedepth, 0]), dict(range=[m-.5, -.5]))
    sx, sy = u_paths(tree)
    fig.add_trace(go.Scatter(x=sx, y=sy, xaxis=f'x{k}', yaxis=f'y{k}', mode='lines', line=dict(color='#4a4a4a', width=1.5),
                             showlegend=False, hoverinfo='skip', cliponaxis=False))

cpanel(5, c1_z, c1_names, c1_dots, 448, 709, c1_tree, 49)
cpanel(7, c2_z, c2_names, c2_dots, 787, 883, c2_tree, 49)
cpanel(9, c3_z, c3_names, c3_dots, 967, 1223, c3_tree, 48)
for i, nm in enumerate(query_compounds):
    T(nm, i-.05, 437, size=26, angle=-90, xref='x5', vanchor='bottom')

# panels d, f ------------------------------------------------------------------------------------
def timeaxes(n, y1, y0, ybot):
    rng0 = -(ybot-y0)/(y0-y1)
    common = dict(visible=True, showline=False, tickcolor=INK, tickwidth=1.6, tickfont=dict(family=FONT, size=26, color=INK))
    axes(n, 916, 1036, y1, ybot,
         dict(range=[0, 48], tickvals=[0, 24, 48], ticks='inside', ticklen=19, **common),
         dict(range=[rng0, 1], tickvals=[0, .5, 1], tickformat='.1f', ticks='outside', ticklen=18,
              **{**common, 'showline': True, 'linecolor': INK, 'linewidth': 1.6}))

def curve(n, y, col, err=None):
    e = dict(type='data', array=err, visible=True, thickness=1.2, width=0, color=INK) if err else None
    fig.add_trace(go.Scatter(x=time_h, y=y, xaxis=f'x{n}', yaxis=f'y{n}', mode='lines+markers', cliponaxis=False, showlegend=False,
        line=dict(color=INK, width=1.6), marker=dict(size=13, color=col, line=dict(color='#2a2a2a', width=1.6)), error_y=e, hoverinfo='skip'))

def legendkeys(labels, cols, ys):
    for lb, c, y in zip(labels, cols, ys):
        fig.add_trace(go.Scatter(x=[1065, 1090, 1115], y=[y, y, y], mode='lines+markers', xaxis='x', yaxis='y', showlegend=False,
            line=dict(color=INK, width=1.6), marker=dict(size=[0, 13, 0], color=c, line=dict(color='#2a2a2a', width=[0, 1.6, 0])), hoverinfo='skip'))
        T(lb, 1121, y, anchor='left')

timeaxes(11, 1363, 1483, 1502)
curve(11, cpt_d, PINK, cpt_err); curve(11, cpt_era2_d, DRED, cpt_era2_err); curve(11, era2_d, BLUE, era2_err); curve(11, dmso_d, GREY)
legendkeys(legend_d, [GREY, PINK, BLUE, DRED], [1364, 1401, 1442, 1479])
timeaxes(13, 1713, 1832, 1851)
curve(13, cpt_f, PINK, cpt_err_f); curve(13, btz_f, ORANGE, btz_err); curve(13, cpt_btz_f, GREEN, cpt_btz_err); curve(13, dmso_f, GREY)
legendkeys(legend_f, [GREY, PINK, ORANGE, GREEN], [1714, 1751, 1791, 1829])
for ty1, ty2, ul in ((1288, 1325, 1345), (1637, 1674, 1693)):
    T('Cell death', 979, ty1, size=31); T('over time', 979, ty2, size=31); L(918, ul, 1039, ul)
    T('Population cell', 1465, ty1, size=30); T('death onset', 1465, ty2, size=30); L(1414, ul, 1535, ul)
T('Lethal fraction', 830, 1424, angle=-90); T('Lethal fraction', 828, 1770, angle=-90)
T('Time (h)', 984, 1548); T('Time (h)', 979, 1900)

# panels e, g ------------------------------------------------------------------------------------
def onset(n, vals, top, bot, row0, err, drug):
    rh = 31
    common = dict(visible=True, showline=True, linecolor=INK, linewidth=1.6, tickcolor=INK, tickwidth=1.6)
    axes(n, 1413, 1531, top, bot,
         dict(range=[0, 20], tickvals=[0, 10, 20], ticks='outside', ticklen=20, tickfont=dict(family=FONT, size=26, color=INK), **common),
         dict(range=[3+(bot-(row0+3*rh))/rh, -(row0-top)/rh], tickvals=[0, 1, 2, 3], ticks='outside', ticklen=19, showticklabels=False, **common))
    e = dict(type='data', array=err, visible=True, thickness=1.5, width=0, color=INK) if err else None
    fig.add_trace(go.Scatter(x=vals, y=[0, 1, 2, 3], xaxis=f'x{n}', yaxis=f'y{n}', mode='markers', cliponaxis=False, showlegend=False, error_x=e,
        marker=dict(symbol='diamond', size=16, color='#8dc63f', line=dict(color='#2a2a2a', width=1.6)), hoverinfo='skip'))
    T('NL', 1433, row0, size=27)
    for r in range(4):
        if plus_drug[r]: T('+', 1347, row0+r*rh)
        if plus_cpt[r]: T('+', 1380, row0+r*rh)
    T(drug, 1330 if drug == 'Era2' else 1335, bot+29 if drug == 'Era2' else bot+24, size=26, angle=-45)
    T('Cpt', 1373, bot+25 if drug == 'Era2' else bot+21, size=26, angle=-45)
    T('D<sub>O</sub> (h)', 1479, bot+69)

onset(12, onset_e, 1354, 1473, 1368, None, 'Era2')
onset(14, onset_g, 1702, 1821, 1715, onset_g_err, 'Btz')

# page texts and arrows --------------------------------------------------------------------------
for lab, x, y in (('a', 14, 20), ('b', 15, 272), ('c', 827, 369), ('d', 825, 1275), ('e', 1298, 1276), ('f', 824, 1622), ('g', 1297, 1627)):
    T(lab, x, y, size=36, bold=True)
T('8 lethal query', 419, 52, size=31, anchor='right'); T('compounds + controls', 419, 89, size=31, anchor='right')
T('1,833 bioactive modulator', 419, 153, size=31, anchor='right'); T('compounds + controls', 419, 191, size=31, anchor='right')
T('HT-1080<sup>N</sup>', 579, 103, size=31); T('cells', 579, 141, size=31)
T('Time-lapse cell death', 886, 81, size=31); T('imaging (STACK)', 886, 118, size=31); T('(~16,000 conditions)', 886, 155, size=31)
T('Analyze kinetic', 1260, 103, size=31); T('modulatory profiles', 1260, 141, size=31)
ARW(437, 88, 489, 114); ARW(437, 155, 489, 132); ARW(661, 119, 718, 119); ARW(1056, 119, 1114, 119)

T('Lethal query compounds', 465, 274, size=31)
T('Ferroptosis', 334, 312, size=26, color='#ee1c2e'); T('Apoptosis', 545, 312, size=26, color='#f7941d')
for x0, x1, c in ((289, 382, '#ee1c2e'), (430, 663, '#f7941d')):
    shapes.append(dict(type='rect', xref='x', yref='y', x0=x0, x1=x1, y0=330, y1=338.5, fillcolor=c, line=dict(width=0)))
GR, PU = '#12a64e', '#7b3f98'
shapes.append(dict(type='rect', xref='x', yref='y', x0=690, x1=704, y0=613, y1=664, fillcolor=GR, line=dict(width=0)))
shapes.append(dict(type='rect', xref='x', yref='y', x0=690, x1=704, y0=669, y1=680, fillcolor=PU, line=dict(width=0)))
L(697, 613, 697, 265, GR, 2); ARW(697, 265, 737, 265, GR, 2, 24, 8, 0)
L(704, 675, 712, 675, PU, 2); L(712, 675, 712, 307, PU, 2); ARW(712, 307, 737, 307, PU, 2, 24, 9, 0)
T('Fig. 2', 742, 265, size=31, color=GR, anchor='left', bold=True); T('Fig. 4', 742, 308, size=31, color=PU, anchor='left', bold=True)
for pts in (((699, 848), (812, 448), (812, 711)), ((697, 987), (812, 787), (812, 884)), ((697, 1306), (812, 967), (812, 1222))):
    (a, b), (c, d), (e, f) = pts
    shapes.append(dict(type='path', xref='x', yref='y', path=f'M {a} {b} L {c} {d} L {e} {f} Z', line=dict(color='#7f7f7f', width=1.8)))
T('Modulator compounds', 22, 1171, size=31.3, angle=-90)
MG = '#e0185c'
T('Microtubule agent', 1136, 414, size=26.5, color=MG, anchor='left'); L(1145, 429, 1145, 445, INK, 1.5)
T('Statin', 1136, 754, size=26.5, color=MG, anchor='left'); L(1145, 769, 1145, 786, INK, 1.5)
T('Known proteasome inhibitor', 1136, 936, size=26.5, color=MG, anchor='left'); L(1145, 948, 1145, 966, INK, 1.5)
OR = '#f15a24'
T('kinase inhibitors', 1476, 567, size=26.5, color=OR, angle=90)
ARW(1329, 485, 1287, 485, OR, 4.5, 20, 12, 0); ARW(1313, 626, 1271, 626, OR, 4.5, 20, 12, 0); ARW(1456, 652, 1413, 652, OR, 4.5, 20, 12, 0)
T('Suppression', 406, 1805, anchor='right'); T('(-3 ≤ z)', 406, 1837, anchor='right')
T('Enhancement', 526, 1805, anchor='left'); T('(z ≥ 3)', 526, 1837, anchor='left')
T('Cell death', 464, 1862); T('modulation', 464, 1894)

fig.update_layout(width=W, height=H, margin=dict(l=0, r=0, t=0, b=0, pad=0), autosize=False, paper_bgcolor='white',
                  plot_bgcolor='rgba(0,0,0,0)', showlegend=False, annotations=annos, shapes=shapes, **layout_axes)
fig.write_html("out.html", config=dict(displayModeBar=False),
               post_script="document.body.style.margin='0';document.documentElement.style.overflow='hidden';")
